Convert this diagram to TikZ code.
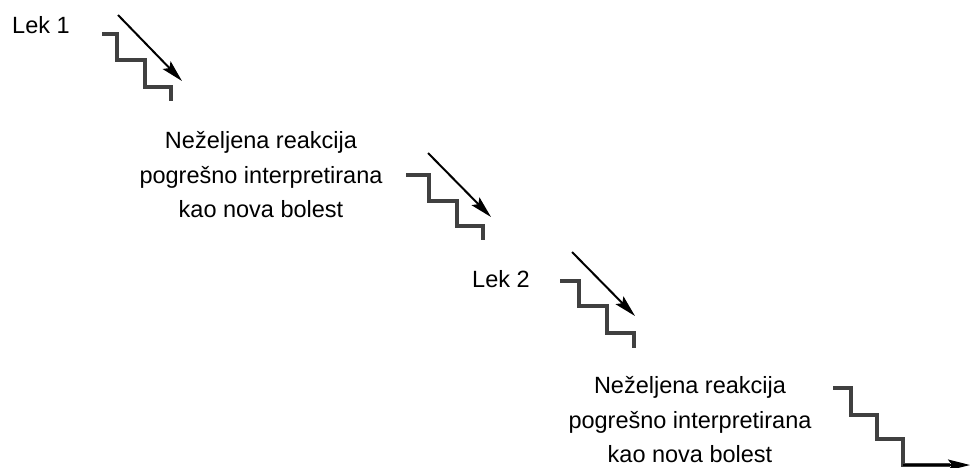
\documentclass[tikz,border=0pt]{standalone}
\usepackage{fontspec}
\setmainfont{Liberation Sans}
\usetikzlibrary{arrows.meta}
\begin{document}
\begin{tikzpicture}[x=1pt,y=-1pt,
	stairs/.style={line width=3.2pt, black!75, line join=miter},
	fall/.style={line width=2pt, -{Stealth[length=22pt,width=11pt,inset=4pt]}},
	label/.style={font=\fontsize{23.5}{34.5}\selectfont, align=center, inner sep=0pt}]
		\useasboundingbox (0,0) rectangle (971,467);
		
		%drugs
		\node[label, anchor=base west] (lek1) at (12,33) {Lek 1};
		\node[label, anchor=base west] (lek2) at (472,287) {Lek 2};
		
		%misread reactions
		\node[label] (reakcija1) at (261,175) {Neželjena reakcija\\pogrešno interpretirana\\kao nova bolest};
		\node[label] (reakcija2) at (690,420) {Neželjena reakcija\\pogrešno interpretirana\\kao nova bolest};
		
		%stairs 1
		\draw[stairs] (102,34) -- (117,34) -- (117,60) -- (145,60) -- (145,87) -- (171,87) -- (171,101);
		\draw[fall] (118,15) -- (182,81);
		
		%stairs 2
		\draw[stairs] (406,175) -- (429,175) -- (429,201) -- (457,201) -- (457,226) -- (483,226) -- (483,240);
		\draw[fall] (428,153) -- (491,217);
		
		%stairs 3
		\draw[stairs] (560,281) -- (579,281) -- (579,306) -- (607,306) -- (607,333) -- (634,333) -- (634,348);
		\draw[fall] (572,252) -- (635,316);
		
		%stairs 4
		\draw[stairs] (833,388) -- (851,388) -- (851,415) -- (877,415) -- (877,439) -- (903,439) -- (903,465) -- (950,465);
		\draw[fall] (903,465) -- (970,465);
\end{tikzpicture}
\end{document}
